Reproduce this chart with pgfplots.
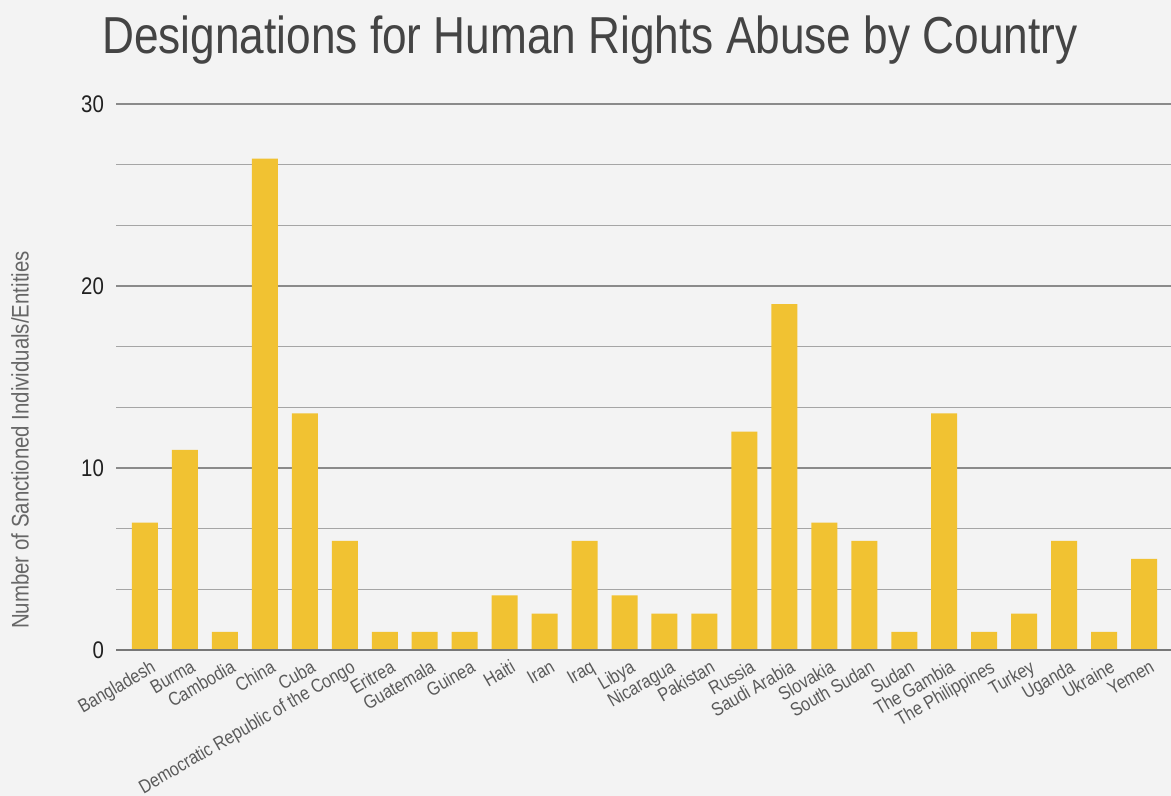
\documentclass[border=0pt]{standalone}
\usepackage{fontspec}
\setmainfont[FakeStretch=0.85]{Liberation Sans}
\usepackage{pgfplots}
\pgfplotsset{compat=1.18}
\definecolor{bg}{HTML}{F3F3F3}
\definecolor{bar}{HTML}{F1C232}
\definecolor{titlec}{HTML}{444444}
\definecolor{labc}{HTML}{666666}
\definecolor{xlabc}{HTML}{5A5A5A}
\definecolor{gridmaj}{HTML}{8A8A8A}
\definecolor{gridmin}{HTML}{A5A5A5}
\definecolor{zeroc}{HTML}{777777}
\begin{document}
\begin{tikzpicture}
\fill[bg] (0,0) rectangle (585.5pt,398pt);
\path[use as bounding box] (0,0) rectangle (585.5pt,398pt);
\node[text=titlec, font=\fontsize{26}{30}\selectfont] at (295pt,378pt) {Designations for Human Rights Abuse by Country};
\node[text=labc, rotate=90, font=\fontsize{12}{14}\selectfont] at (10pt,178pt) {Number of Sanctioned Individuals/Entities};
\begin{axis}[
  at={(58pt,73pt)}, anchor=south west,
  scale only axis, width=527.5pt, height=273pt,
  xmin=-0.725, xmax=25.675, ymin=0, ymax=30,
  axis line style={draw=none},
  major tick length=0pt, minor tick length=0pt,
  ytick={0,10,20,30}, minor y tick num=2,
  ymajorgrids, yminorgrids,
  major grid style={gridmaj, line width=0.75pt},
  minor grid style={gridmin, line width=0.5pt},
  yticklabel style={text=black!87, font=\fontsize{12}{14}\selectfont, xshift=-2.5pt},
  /pgf/number format/assume math mode=true,
  xtick={0,...,25},
  xticklabels={Bangladesh,Burma,Cambodia,China,Cuba,Democratic Republic of the Congo,Eritrea,Guatemala,Guinea,Haiti,Iran,Iraq,Libya,Nicaragua,Pakistan,Russia,Saudi Arabia,Slovakia,South Sudan,Sudan,The Gambia,The Philippines,Turkey,Uganda,Ukraine,Yemen},
  xticklabel style={text=xlabc, rotate=30, anchor=north east, font=\fontsize{9.5}{10}\selectfont, xshift=1pt, yshift=-4pt, inner sep=1pt},
  ybar, bar width=13pt,
  clip=false,
]
\addplot[fill=bar, draw=none] coordinates {
(0,7) (1,11) (2,1) (3,27) (4,13) (5,6) (6,1) (7,1) (8,1) (9,3) (10,2) (11,6) (12,3) (13,2) (14,2) (15,12) (16,19) (17,7) (18,6) (19,1) (20,13) (21,1) (22,2) (23,6) (24,1) (25,5)
};
\draw[zeroc, line width=1pt] (axis cs:-0.725,0) -- (axis cs:25.675,0);
\end{axis}
\end{tikzpicture}
\end{document}
